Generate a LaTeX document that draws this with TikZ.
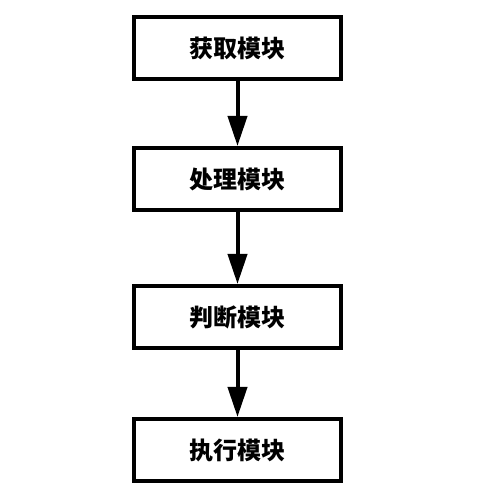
\documentclass[tikz,border=0pt]{standalone}
\usepackage{fontspec}
\newfontfamily\cjk{Noto Sans CJK SC}
\usetikzlibrary{arrows.meta}

\tikzstyle{modulebox} = [draw,line width=4pt,minimum width=207pt,minimum height=62pt,inner sep=0pt,font=\cjk\bfseries\fontsize{24}{28}\selectfont]
\tikzstyle{arrowdecorate} = [-{Triangle[length=30pt,width=19pt]},line width=4pt]

\begin{document}
\begin{tikzpicture}[x=1pt,y=1pt]
      \useasboundingbox[fill=white] (0,0) rectangle (480,501);
      %% modules
      \foreach \nodename/\y/\label in {get/452.5/获取模块, proc/322/处理模块,
        judge/184/判断模块, exec/51/执行模块}
      {
        \node (\nodename) at (237.5,\y) [modulebox] {\label};
      }
      %% arrows
      \path
      \foreach \startnode/\endnode in {get/proc, proc/judge, judge/exec}
      {
        (\startnode) edge[arrowdecorate] (\endnode)
      };
\end{tikzpicture}
\end{document}
